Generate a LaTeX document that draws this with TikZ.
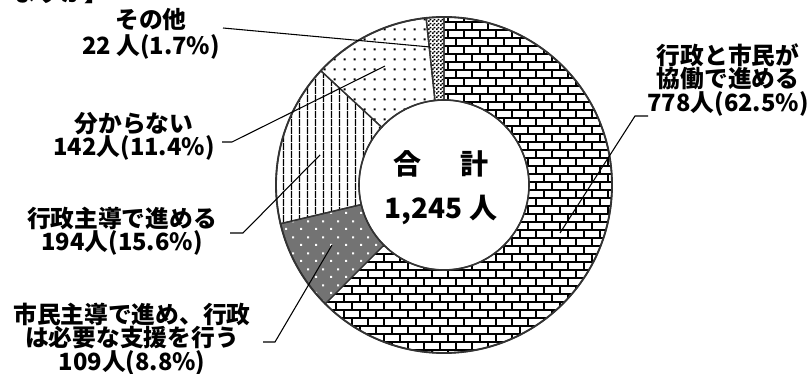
\documentclass[tikz,border=0pt]{standalone}
\usepackage{fontspec}
\setmainfont{Noto Sans CJK JP}
\usetikzlibrary{patterns}

% fill patterns of the ring
\pgfdeclarepatternformonly{bigbricks}{\pgfpoint{-1pt}{-1pt}}{\pgfpoint{13pt}{13pt}}{\pgfpoint{12pt}{12pt}}{
	\pgfsetlinewidth{1.5pt}
	\pgfpathmoveto{\pgfpoint{-1pt}{0pt}}\pgfpathlineto{\pgfpoint{13pt}{0pt}}
	\pgfpathmoveto{\pgfpoint{-1pt}{6pt}}\pgfpathlineto{\pgfpoint{13pt}{6pt}}
	\pgfpathmoveto{\pgfpoint{0pt}{0pt}}\pgfpathlineto{\pgfpoint{0pt}{6pt}}
	\pgfpathmoveto{\pgfpoint{12pt}{0pt}}\pgfpathlineto{\pgfpoint{12pt}{6pt}}
	\pgfpathmoveto{\pgfpoint{6pt}{6pt}}\pgfpathlineto{\pgfpoint{6pt}{12pt}}
	\pgfusepath{stroke}}
\pgfdeclarepatternformonly{vstripes}{\pgfpointorigin}{\pgfpoint{6pt}{6pt}}{\pgfpoint{6pt}{6pt}}{
	\pgfsetlinewidth{1pt}
	\pgfpathmoveto{\pgfpoint{3pt}{0pt}}\pgfpathlineto{\pgfpoint{3pt}{6pt}}
	\pgfusepath{stroke}}
\pgfdeclarepatternformonly{sparsedots}{\pgfpointorigin}{\pgfpoint{7.5pt}{7.5pt}}{\pgfpoint{7.5pt}{7.5pt}}{
	\pgfpathrectangle{\pgfpoint{3pt}{3pt}}{\pgfpoint{1.6pt}{1.6pt}}
	\pgfusepath{fill}}
\pgfdeclarepatternformonly{whitedots}{\pgfpointorigin}{\pgfpoint{11.25pt}{12pt}}{\pgfpoint{11.25pt}{12pt}}{
	\pgfpathrectangle{\pgfpoint{0pt}{0pt}}{\pgfpoint{1.6pt}{1.6pt}}
	\pgfpathrectangle{\pgfpoint{5.6pt}{6pt}}{\pgfpoint{1.6pt}{1.6pt}}
	\pgfusepath{fill}}
\pgfdeclarepatternformonly{finecheck}{\pgfpointorigin}{\pgfpoint{3pt}{3pt}}{\pgfpoint{3pt}{3pt}}{
	\pgfpathrectangle{\pgfpoint{0pt}{0pt}}{\pgfpoint{1.5pt}{1.5pt}}
	\pgfpathrectangle{\pgfpoint{1.5pt}{1.5pt}}{\pgfpoint{1.5pt}{1.5pt}}
	\pgfusepath{fill}}

\begin{document}
\begin{tikzpicture}[x = 0.75pt, y = 0.75pt,
	lbl/.style = {font = \fontsize{17.8}{17.5}\selectfont\bfseries, align = center, inner sep = 0pt},
	total/.style = {font = \fontsize{21}{21}\selectfont\bfseries, inner sep = 0pt},
	leader/.style = {black, line width = 0.8pt},
	seg/.style = {draw = black!80, line width = 1pt},
	brickfill/.style = {pattern = bigbricks},
	gridfill/.style = {preaction = {fill = black!55}, pattern = whitedots, pattern color = white},
	stripefill/.style = {pattern = vstripes},
	dotfill/.style = {pattern = sparsedots},
	checkfill/.style = {pattern = finecheck}]
	\useasboundingbox (0, 0) rectangle (811, 374);

	% ring of the answers, clockwise from the top
	\begin{scope}[shift = {(444, 189)}]
		\foreach \a/\b/\segpat in {90/-135/brickfill, -135/-166.68/gridfill, -166.68/-222.84/stripefill, -222.84/-263.88/dotfill, -263.88/-270/checkfill}
			\draw [seg, \segpat] (\a:168) arc [start angle = \a, end angle = \b, radius = 168] -- (\b:85) arc [start angle = \b, end angle = \a, radius = 85] -- cycle;
		\draw [black!80, line width = 1.4pt] (0, 0) circle [radius = 168];
		\draw [black!80, line width = 1.2pt] (0, 0) circle [radius = 85];
	\end{scope}

	\node [total] (sum) at (441, 210) {合\hspace{1.4em}計};
	\node [total] (count) at (441, 164) {1,245 人};

	\node [lbl, anchor = base east] (title) at (109, 372) {ますか】};

	\node [lbl] (other) at (151, 340) {その他\\[2pt]22 人(1.7\%)};
	\node [lbl] (unknown) at (134, 237.5) {分からない\\142人(11.4\%)};
	\node [lbl] (admin) at (122, 142.5) {行政主導で進める\\194人(15.6\%)};
	\node [lbl] (citizen) at (132, 35) {市民主導で進め、行政\\は必要な支援を行う\\109人(8.8\%)};
	\node [lbl] (collab) at (728, 294) {行政と市民が\\協働で進める\\778人(62.5\%)};

	% leader lines
	\coordinate (other-a) at (223, 346);
	\coordinate (other-b) at (430, 327);
	\coordinate (unknown-a) at (222, 232);
	\coordinate (unknown-b) at (232, 232);
	\coordinate (unknown-c) at (385, 308);
	\coordinate (admin-a) at (230, 141);
	\coordinate (admin-b) at (243, 141);
	\coordinate (admin-c) at (320, 219);
	\coordinate (citizen-a) at (263, 32);
	\coordinate (citizen-b) at (275, 32);
	\coordinate (citizen-c) at (332, 129);
	\coordinate (collab-a) at (648, 258);
	\coordinate (collab-b) at (635, 258);
	\coordinate (collab-c) at (560, 141);
	\draw [leader] (other-a) -- (other-b);
	\draw [leader] (unknown-a) -- (unknown-b) -- (unknown-c);
	\draw [leader] (admin-a) -- (admin-b) -- (admin-c);
	\draw [leader] (citizen-a) -- (citizen-b) -- (citizen-c);
	\draw [leader] (collab-a) -- (collab-b) -- (collab-c);
\end{tikzpicture}
\end{document}
